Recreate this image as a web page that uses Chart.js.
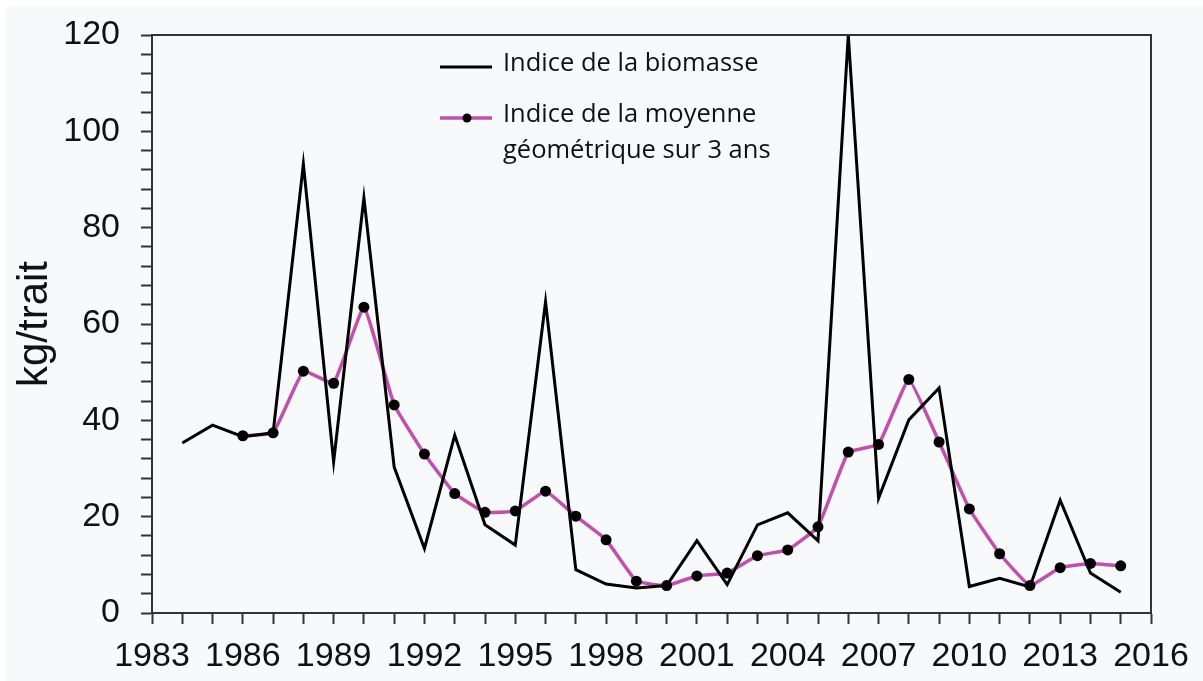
<!DOCTYPE html>
<html>
<head>
	<meta charset="utf-8">
	<title>Indice de la biomasse</title>
	<script src="https://cdn.jsdelivr.net/npm/chart.js"></script>
	<style>
		html, body { margin: 0; padding: 0; background: #ffffff; }
		#bg { position: absolute; left: 6px; top: 7px; width: 1197px; height: 674px; background: #f8f9fb; }
		#wrap { position: absolute; left: 0; top: 0; width: 1203px; height: 681px; }
	</style>
</head>
<body>
	<div id="bg"></div>
	<div id="wrap">
		<canvas id="lineChart" width="1203" height="681"></canvas>
	</div>

<script>
// values (kg/trait)
var years = [1984, 1985, 1986, 1987, 1988, 1989, 1990, 1991, 1992, 1993, 1994, 1995, 1996, 1997,
	1998, 1999, 2000, 2001, 2002, 2003, 2004, 2005, 2006, 2007, 2008, 2009, 2010, 2011, 2012, 2013, 2014, 2015];
var biomass = [35.3, 39.0, 36.6, 37.4, 93.2, 31.4, 86.2, 30.3, 13.4, 36.9, 18.3, 14.1, 64.6, 9.0,
	6.0, 5.2, 5.7, 15.0, 5.9, 18.3, 20.8, 15.0, 120, 23.8, 40.1, 46.7, 5.5, 7.2, 5.4, 23.4, 8.3, 4.3];
var geoYears = [1986, 1987, 1988, 1989, 1990, 1991, 1992, 1993, 1994, 1995, 1996, 1997,
	1998, 1999, 2000, 2001, 2002, 2003, 2004, 2005, 2006, 2007, 2008, 2009, 2010, 2011, 2012, 2013, 2014, 2015];
var geoMean = [36.8, 37.4, 50.2, 47.7, 63.5, 43.2, 33.0, 24.8, 20.9, 21.2, 25.3, 20.1,
	15.2, 6.6, 5.7, 7.7, 8.3, 11.9, 13.1, 17.9, 33.4, 35.0, 48.5, 35.5, 21.6, 12.3, 5.7, 9.4, 10.3, 9.8];
var legendLabels = ["Indice de la biomasse", ["Indice de la moyenne", "géométrique sur 3 ans"]];
var yTitle = "kg/trait";

var axisColor = "#333333";
var pink = "#c04fae";

function to_points(xs, ys) {
	var pts = [];
	for (var i = 0; i < xs.length; i++) {
		pts.push({ x: xs[i], y: ys[i] });
	}
	return pts;
}

// box around the plot + hand drawn legend
var boxPlugin = {
	id: "box",
	afterDraw: function (chart) {
		var ctx = chart.ctx;
		var a = chart.chartArea;
		ctx.save();
		ctx.strokeStyle = axisColor;
		ctx.lineWidth = 2;
		ctx.beginPath();
		ctx.moveTo(a.left, a.top);
		ctx.lineTo(a.right, a.top);
		ctx.lineTo(a.right, a.bottom);
		ctx.stroke();

		var lx = a.left + 288;
		ctx.font = "25.5px 'Open Sans'";
		ctx.fillStyle = "#111111";
		ctx.textBaseline = "middle";
		// black line sample
		ctx.strokeStyle = "#000000";
		ctx.lineWidth = 3;
		ctx.beginPath();
		ctx.moveTo(lx, a.top + 32);
		ctx.lineTo(lx + 52, a.top + 32);
		ctx.stroke();
		ctx.fillText(legendLabels[0], lx + 63, a.top + 29);
		// pink line sample with dot
		ctx.strokeStyle = pink;
		ctx.lineWidth = 3.5;
		ctx.beginPath();
		ctx.moveTo(lx, a.top + 83);
		ctx.lineTo(lx + 52, a.top + 83);
		ctx.stroke();
		ctx.fillStyle = "#000000";
		ctx.beginPath();
		ctx.arc(lx + 27, a.top + 83, 4.5, 0, Math.PI * 2);
		ctx.fill();
		ctx.fillStyle = "#111111";
		ctx.fillText(legendLabels[1][0], lx + 63, a.top + 80);
		ctx.fillText(legendLabels[1][1], lx + 63, a.top + 116);
		ctx.restore();
	}
};

var ctxL = document.getElementById("lineChart").getContext("2d");
var myLineChart = new Chart(ctxL, {
	type: "line",
	data: {
		datasets: [
			{
				label: legendLabels[0],
				data: to_points(years, biomass),
				borderColor: "#000000",
				borderWidth: 3,
				pointRadius: 0,
				tension: 0,
				clip: false
			},
			{
				label: legendLabels[1].join(" "),
				data: to_points(geoYears, geoMean),
				borderColor: pink,
				borderWidth: 3.5,
				pointRadius: 5.5,
				pointBackgroundColor: "#000000",
				pointBorderWidth: 0,
				tension: 0.1,
				clip: false
			}
		]
	},
	options: {
		responsive: false,
		animation: false,
		events: [],
		layout: { padding: { top: 35, right: 52, left: 0, bottom: 0 } },
		plugins: {
			legend: { display: false },
			tooltip: { enabled: false }
		},
		scales: {
			x: {
				type: "linear",
				min: 1983,
				max: 2016,
				afterFit: function (scale) { scale.height = 68; },
				ticks: {
					stepSize: 1,
					autoSkip: false,
					maxRotation: 0,
					padding: 12,
					color: "#111111",
					font: { family: "'Liberation Sans', Arial", size: 34 },
					callback: function (v) { return (v - 1983) % 3 === 0 ? String(v) : ""; }
				},
				grid: { drawOnChartArea: false, drawTicks: true, tickLength: 11, tickWidth: 2, tickColor: axisColor },
				border: { display: true, color: axisColor, width: 2 }
			},
			y: {
				min: 0,
				max: 120,
				afterFit: function (scale) {
					scale.width = 152;
					scale.paddingTop = 0;
					scale.paddingBottom = 0;
				},
				ticks: {
					stepSize: 4,
					autoSkip: false,
					padding: 21,
					color: "#111111",
					font: { family: "'Liberation Sans', Arial", size: 34 },
					callback: function (v) { return v % 20 === 0 ? String(v) : ""; }
				},
				grid: { drawOnChartArea: false, drawTicks: true, tickLength: 11, tickWidth: 2, tickColor: axisColor },
				border: { display: true, color: axisColor, width: 2 },
				title: {
					display: true,
					text: yTitle,
					color: "#111111",
					font: { family: "'Liberation Sans', Arial", size: 42 },
					padding: { top: 10, bottom: 0 }
				}
			}
		}
	},
	plugins: [boxPlugin]
});
</script>
</body>
</html>
